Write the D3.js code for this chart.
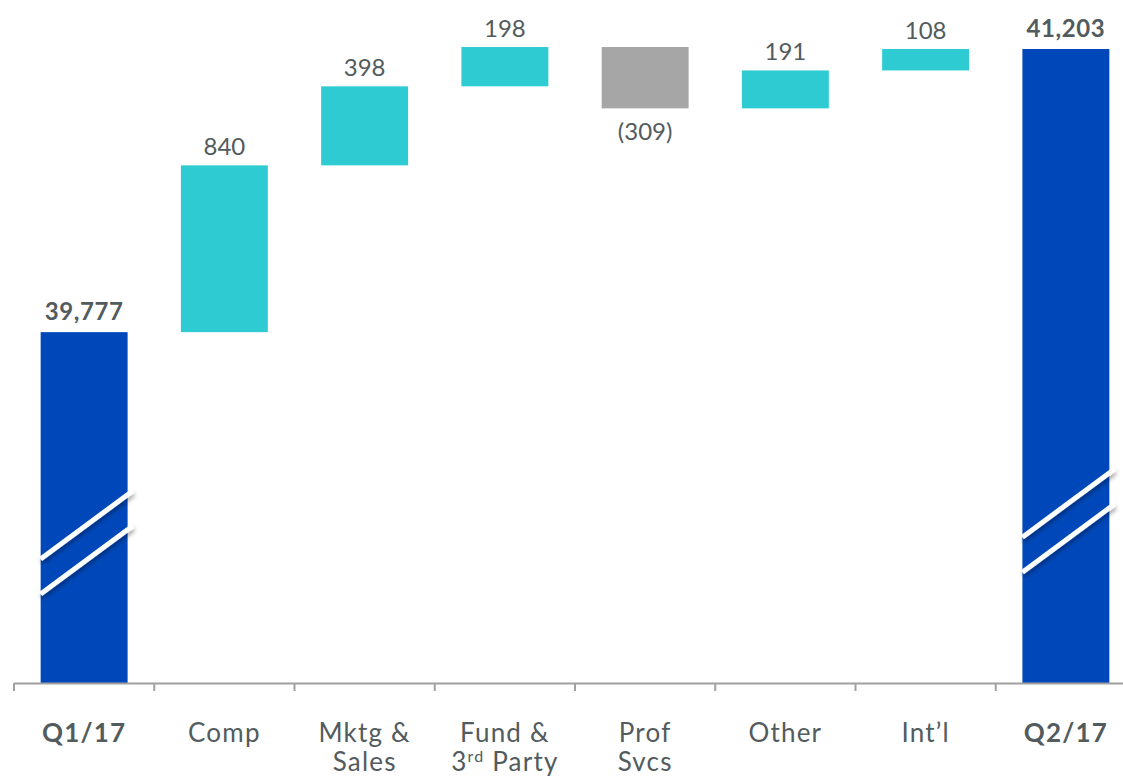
<!DOCTYPE html>
<html>
<head>
<meta charset="utf-8">
<script src="https://cdn.jsdelivr.net/npm/d3@7"></script>
<style>
  html, body { margin: 0; padding: 0; background: #fff; }
  svg { display: block; font-family: "Lato", "DejaVu Sans", sans-serif; }
</style>
</head>
<body>
<svg id="chart" width="1123" height="778"></svg>
<script>
// --- data ---
const categories = ["Q1/17", "Comp", "Mktg & Sales", "Fund & 3rd Party", "Prof Svcs", "Other", "Int'l", "Q2/17"];
const changes = [39777, 840, 398, 198, -309, 191, 108, 41203];
const isTotal = [true, false, false, false, false, false, false, true];
const valueLabels = ["39,777", "840", "398", "198", "(309)", "191", "108", "41,203"];
const axisLines = [["Q1/17"], ["Comp"], ["Mktg &", "Sales"], ["Fund &", "3rd Party"], ["Prof", "Svcs"], ["Other"], ["Int\u2019l"], ["Q2/17"]];
const breakValues = [38720, 38830]; // where the axis break is drawn on each total bar

const blue = "#0048BA", teal = "#2ECCD2", grey = "#A6A6A6", textCol = "#525B5D";

// running start/end for the waterfall
let run = 0;
const bars = categories.map((c, i) => {
  let start, end;
  if (isTotal[i]) { start = null; end = changes[i]; run = changes[i]; }
  else { start = run; end = run + changes[i]; run = end; }
  return { cat: c, i, start, end, value: changes[i], total: isTotal[i], label: valueLabels[i] };
});

const svg = d3.select("#chart");
const baseY = 683;

const x = d3.scaleBand().domain(categories).range([14, 14 + 8 * 140.25]).paddingInner(0.38).paddingOuter(0.19);
const y = d3.scaleLinear().domain([38010, 41203]).range([baseY, 49]);

const defs = svg.append("defs");
const f = defs.append("filter").attr("id", "shadow").attr("x", "-20%").attr("y", "-50%").attr("width", "140%").attr("height", "200%");
f.append("feDropShadow").attr("dx", 1).attr("dy", 3).attr("stdDeviation", 2).attr("flood-color", "#000").attr("flood-opacity", 0.35);

// bars
svg.append("g").selectAll("rect")
  .data(bars).join("rect")
  .attr("x", d => x(d.cat))
  .attr("width", x.bandwidth())
  .attr("y", d => d.total ? y(d.end) : y(Math.max(d.start, d.end)))
  .attr("height", d => d.total ? baseY - y(d.end) : Math.abs(y(d.start) - y(d.end)))
  .attr("fill", d => d.total ? blue : (d.value < 0 ? grey : teal));

// axis break marks on totals
const totals = bars.filter(d => d.total);
const brk = svg.append("g").attr("filter", "url(#shadow)");
totals.forEach((d, k) => {
  const x0 = x(d.cat), x1 = x(d.cat) + x.bandwidth() + 5;
  const yc = y(breakValues[k]);
  [-17, 18].forEach(off => {
    brk.append("line")
      .attr("x1", x0).attr("y1", yc + off + 34)
      .attr("x2", x1).attr("y2", yc + off - 34)
      .attr("stroke", "#fff").attr("stroke-width", 5).attr("stroke-linecap", "butt");
  });
});

// value labels
svg.append("g").selectAll("text")
  .data(bars).join("text")
  .attr("x", d => x(d.cat) + x.bandwidth() / 2)
  .attr("y", d => {
    if (d.total) return y(d.end) - 12;
    if (d.value < 0) return y(d.end) + 32;
    return y(d.end) - 10;
  })
  .attr("text-anchor", "middle")
  .attr("font-size", 24)
  .attr("font-weight", d => d.total ? 700 : 400)
  .attr("letter-spacing", d => d.total ? 0.6 : 0)
  .attr("fill", textCol)
  .text(d => d.label);

// x axis line + ticks at band boundaries
const ax = svg.append("g");
ax.append("line").attr("x1", 14).attr("x2", 1123).attr("y1", baseY + 0.5).attr("y2", baseY + 0.5)
  .attr("stroke", "#A0A0A0").attr("stroke-width", 2);
const gap = (x.step() - x.bandwidth()) / 2;
ax.selectAll("line.tick")
  .data(categories).join("line").attr("class", "tick")
  .attr("x1", d => x(d) - gap).attr("x2", d => x(d) - gap)
  .attr("y1", baseY).attr("y2", baseY + 8)
  .attr("stroke", "#A0A0A0").attr("stroke-width", 2);

// category labels
const cl = svg.append("g").selectAll("text")
  .data(categories).join("text")
  .attr("text-anchor", "middle")
  .attr("font-size", 26)
  .attr("letter-spacing", 1.2)
  .attr("font-weight", (d, i) => isTotal[i] ? 700 : 400)
  .attr("fill", textCol);
cl.each(function(d, i) {
  const t = d3.select(this);
  axisLines[i].forEach((line, j) => {
    const ts = t.append("tspan").attr("x", x(d) + x.bandwidth() / 2).attr("y", 742 + j * 29);
    if (line.startsWith("3rd")) {
      ts.append("tspan").text("3");
      ts.append("tspan").attr("font-size", 16).attr("dy", -9).text("rd");
      ts.append("tspan").attr("dy", 9).text(" Party");
    } else {
      ts.text(line);
    }
  });
});
</script>
</body>
</html>
